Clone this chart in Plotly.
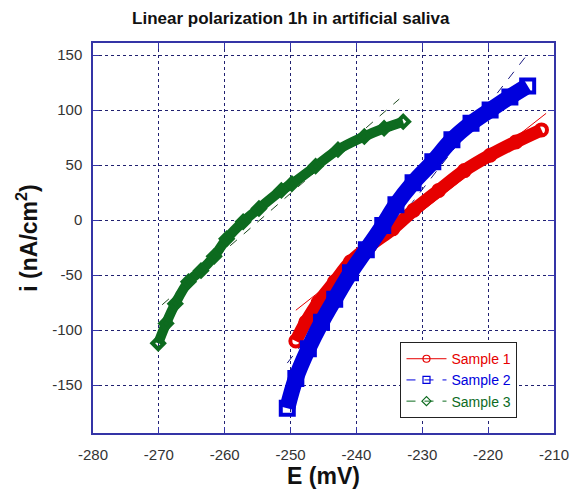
import plotly.graph_objects as go

# ---- data ----
E1 = [-249.2, -247.7, -245.8, -243.3, -240.9, -237.9, -234.5, -231.3, -227.5, -223.6, -219.7, -215.8, -211.9]
i1 = [-110, -93, -75, -56, -38, -23, -8, 9, 27, 45, 59, 71, 82]

E2 = [-250.5, -249.2, -247.3, -245.3, -243.3, -240.9, -238.5, -236.0, -234.0, -231.4, -228.4, -225.5, -222.6, -219.7, -216.7, -214.0]
i2 = [-171, -144, -117, -93, -72, -48, -27, -5, 14, 34, 53, 73, 88, 100, 112, 122]

E3 = [-270.1, -268.9, -267.5, -265.5, -263.6, -261.6, -259.7, -257.2, -254.8, -251.4, -249.8, -246.2, -242.8, -238.8, -235.8, -232.9]
i3 = [-112, -94, -76, -56, -46, -33, -17, -1.5, 10.5, 27, 33, 49, 64, 76, 83.5, 89.5]

# linear fits (end points)
fit1_E = [-249.2, -211.2]
fit1_i = [-82, 97]
fit2_E = [-250.5, -213.6]
fit2_i = [-130, 154]
fit3_E = [-269.5, -233.5]
fit3_i = [-77, 110]

names = ["Sample 1", "Sample 2", "Sample 3"]
colors = ["#e60000", "#0000dd", "#0d6b1f"]
symbols = ["circle-open", "square-open", "diamond-open"]

x_ticks = [-280, -270, -260, -250, -240, -230, -220, -210]
y_ticks = [-150, -100, -50, 0, 50, 100, 150]

FONT = "Liberation Sans, Arial"

fig = go.Figure()

# fit lines (beneath data)
fig.add_trace(go.Scatter(x=fit1_E, y=fit1_i, mode="lines", showlegend=False,
                         line=dict(color=colors[0], width=1)))
fig.add_trace(go.Scatter(x=fit2_E, y=fit2_i, mode="lines", showlegend=False,
                         line=dict(color="#1a1a80", width=1, dash="dash")))
fig.add_trace(go.Scatter(x=fit3_E, y=fit3_i, mode="lines", showlegend=False,
                         line=dict(color="#1f4a20", width=1, dash="dash")))

# data bands
widths = [13, 16, 10]
msizes = [11, 13, 9]
for E, I, c, s, w, ms in [(E1, i1, colors[0], symbols[0], widths[0], msizes[0]),
                          (E2, i2, colors[1], symbols[1], widths[1], msizes[1]),
                          (E3, i3, colors[2], symbols[2], widths[2], msizes[2])]:
    fig.add_trace(go.Scatter(x=E, y=I, mode="lines+markers", showlegend=False,
                             line=dict(color=c, width=w, shape="spline"),
                             marker=dict(symbol=s, size=ms, color=c, line=dict(width=4, color=c))))

# legend entries
dashes = ["solid", "dash", "dash"]
for n, c, s, d in zip(names, colors, symbols, dashes):
    fig.add_trace(go.Scatter(x=[None], y=[None], mode="lines+markers",
                             name=f"<span style='color:{c}'>{n}</span>",
                             line=dict(color=c, width=1, dash=d),
                             marker=dict(symbol=s, size=7, color=c, line=dict(width=1.2, color=c))))

axis_col = "#3434a6"
common = dict(showline=True, linecolor=axis_col, linewidth=1.5, mirror="ticks",
              ticks="inside", ticklen=6, tickcolor=axis_col, tickwidth=1,
              showgrid=True, gridcolor="#202070", gridwidth=1, griddash="dot",
              zeroline=False, tickfont=dict(family=FONT, size=15, color="#333333"))

fig.update_xaxes(range=[-280, -210], tickvals=x_ticks, ticktext=[str(v) for v in x_ticks],
                 ticklabelstandoff=7,
                 title=dict(text="<b>E (mV)</b>", font=dict(family=FONT, size=23, color="#111"),
                            standoff=6), **common)
fig.update_yaxes(range=[-193.6, 161], tickvals=y_ticks, ticktext=[str(v) for v in y_ticks],
                 ticklabelstandoff=6,
                 title=dict(text="<b>i (nA/cm<sup>2</sup>)</b>", font=dict(family=FONT, size=23, color="#111"),
                            standoff=8), **common)

fig.update_layout(
    width=581, height=501,
    margin=dict(l=93, r=17, t=43, b=68),
    paper_bgcolor="white", plot_bgcolor="white",
    title=dict(text="<b>Linear polarization 1h in artificial saliva</b>",
               font=dict(family=FONT, size=17, color="#111"),
               x=0.429, xref="paper", xanchor="center", y=0.964, yanchor="middle"),
    legend=dict(x=0.667, y=0.233, xanchor="left", yanchor="top",
                bgcolor="white", bordercolor="#222", borderwidth=1,
                font=dict(family=FONT, size=14), tracegroupgap=0,
                itemwidth=40),
    showlegend=True,
)

fig.write_html("out.html")
